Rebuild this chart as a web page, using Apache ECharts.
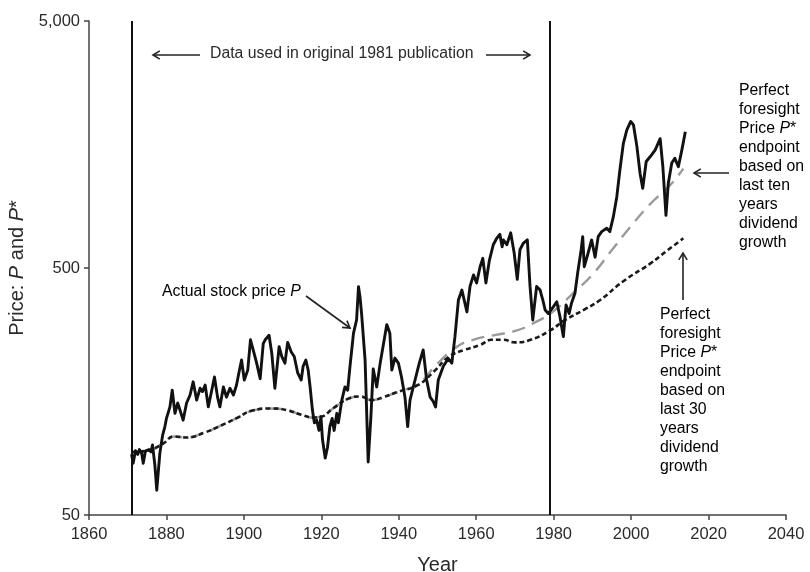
<!DOCTYPE html>
<html><head><meta charset="utf-8">
<script src="https://cdn.jsdelivr.net/npm/echarts@6/dist/echarts.min.js"></script>
<style>html,body{margin:0;padding:0;background:#fff}#c{width:810px;height:572px}</style>
</head><body><div id="c"></div>
<script>
const xTicks = [1860, 1880, 1900, 1920, 1940, 1960, 1980, 2000, 2020, 2040];
const yTicks = [50, 500, 5000];
const markYears = [1871, 1979];

const priceYears = [1871.0,1871.4,1872.0,1872.6,1873.0,1873.6,1874.0,1874.6,1875.5,1876.0,1876.4,1877.0,1877.5,1878.3,1879.0,1879.6,1880.0,1880.9,1881.5,1882.2,1882.9,1883.5,1884.3,1885.2,1886.1,1886.9,1887.8,1888.7,1889.3,1890.0,1890.8,1891.7,1892.4,1893.2,1893.8,1894.7,1895.5,1896.4,1897.3,1898.1,1898.7,1899.4,1900.1,1901.0,1901.7,1902.4,1903.3,1904.2,1905.0,1905.5,1906.5,1907.2,1908.0,1909.1,1909.8,1910.6,1911.3,1912.2,1913.0,1913.9,1914.8,1915.3,1916.0,1916.6,1917.1,1917.7,1918.2,1918.8,1919.4,1919.9,1920.3,1921.0,1921.6,1922.2,1922.8,1923.3,1924.0,1924.4,1925.3,1926.1,1926.8,1927.4,1928.3,1929.1,1929.6,1930.0,1930.4,1931.3,1932.1,1932.8,1933.4,1934.3,1935.2,1936.3,1936.9,1937.7,1938.2,1939.0,1939.9,1940.7,1941.6,1942.3,1942.9,1944.2,1945.3,1946.3,1947.2,1948.1,1948.9,1949.5,1950.2,1951.5,1952.8,1953.7,1954.5,1955.4,1956.3,1957.6,1958.4,1959.3,1960.1,1961.0,1961.7,1962.5,1963.4,1964.4,1965.3,1966.1,1966.7,1967.0,1967.9,1968.9,1969.8,1970.6,1971.3,1972.2,1973.2,1973.9,1974.6,1975.6,1976.5,1977.2,1977.8,1978.6,1979.9,1980.8,1981.6,1982.5,1983.2,1984.0,1984.6,1985.5,1986.2,1987.1,1987.5,1987.9,1988.9,1989.8,1990.7,1991.5,1992.4,1993.7,1994.5,1995.4,1996.3,1997.1,1998.0,1998.9,1999.9,2000.6,2001.5,2002.3,2003.0,2003.9,2004.9,2006.2,2007.5,2008.2,2009.0,2009.6,2010.5,2011.3,2012.2,2013.1,2014.0];
const priceValues = [88,81,91,88,92,89,81,91,92,90,96,80,63,89,105,114,123,137,160,129,142,133,121,142,153,173,146,163,158,168,137,160,181,150,137,165,150,163,153,168,188,212,176,193,256,233,206,178,247,256,267,226,163,240,219,206,250,229,219,188,176,200,212,193,165,133,118,121,110,125,101,85,94,114,123,110,129,118,146,165,160,200,272,308,420,380,326,212,82,125,195,165,206,260,295,272,193,216,206,181,150,114,146,176,206,233,176,150,144,137,176,200,215,206,263,371,407,332,421,469,435,506,547,435,537,621,660,684,609,650,621,694,575,450,593,631,650,421,308,421,407,371,338,327,348,365,319,264,354,327,360,395,478,593,670,506,575,650,553,670,702,724,702,805,970,1247,1597,1813,1960,1900,1550,1210,1052,1350,1410,1500,1670,1285,817,1100,1330,1390,1285,1500,1780];

const pstar30Years = [1871,1875,1879,1882,1885,1890,1894,1898,1902,1907,1911,1915,1918,1920,1923,1927,1930,1933,1936,1940,1945,1949,1953,1957,1961,1964,1967,1970,1974,1979,1983,1988,1992,1998,2005,2009,2013.5];
const pstar30Values = [90,91,97,104,103,108,115,123,132,135,133,127,124,125,135,148,151,146,150,158,168,190,219,233,244,256,256,250,256,279,308,340,371,442,522,583,660];

const pstar10Years = [1871,1875,1879,1882,1885,1890,1894,1898,1902,1907,1911,1915,1918,1920,1923,1927,1930,1933,1936,1940,1945,1950,1955,1960,1965,1970,1975,1980,1985,1990,1995,2000,2005,2010,2013.5];
const pstar10Values = [90,91,97,104,103,108,115,123,132,135,133,127,124,125,135,148,151,146,150,158,170,205,240,258,268,278,300,335,395,470,590,740,910,1080,1262];

function pairs(xs, ys) { return xs.map((x, i) => [x, ys[i]]); }

const chart = echarts.init(document.getElementById('c'), null, {renderer: 'canvas'});
const FONT = 'Liberation Sans, Arial, sans-serif';
const TXT = '#2a2a2a';

function arrow(x1, y1, x2, y2) {
  const a = Math.atan2(y2 - y1, x2 - x1), L = 8, w = 0.55;
  return [
    {type: 'line', silent: true, shape: {x1, y1, x2, y2}, style: {stroke: '#222', lineWidth: 1.6}},
    {type: 'polyline', silent: true, shape: {points: [
      [x2 - L * Math.cos(a - w), y2 - L * Math.sin(a - w)], [x2, y2],
      [x2 - L * Math.cos(a + w), y2 - L * Math.sin(a + w)]]},
     style: {stroke: '#222', lineWidth: 1.6, fill: null}}
  ];
}

const FS = 15.8;
const rich = {
  n: {fontFamily: FONT, fontSize: FS, color: TXT, lineHeight: 19},
  i: {fontFamily: FONT, fontSize: FS, color: TXT, lineHeight: 19, fontStyle: 'italic'}
};
function block(label) {
  return label.map(l => l.map(([s, k]) => '{' + k + '|' + s + '}').join('')).join('\n');
}
const label10 = [[['Perfect','n']],[['foresight','n']],[['Price ','n'],['P','i'],['*','n']],[['endpoint','n']],[['based on','n']],[['last ten','n']],[['years','n']],[['dividend','n']],[['growth','n']]];
const label30 = [[['Perfect','n']],[['foresight','n']],[['Price ','n'],['P','i'],['*','n']],[['endpoint','n']],[['based on','n']],[['last 30','n']],[['years','n']],[['dividend','n']],[['growth','n']]];

const graphics = [
  {type: 'text', silent: true, left: 210, top: 46, style: {text: 'Data used in original 1981 publication', font: FS + 'px ' + FONT, fill: TXT}},
  ...arrow(200, 55, 153, 55),
  ...arrow(486, 55, 530, 55),
  {type: 'text', silent: true, left: 162, top: 284, style: {text: '{n|Actual stock price }{i|P}', rich}},
  ...arrow(306, 296, 350, 328),
  {type: 'text', silent: true, left: 739, top: 83, style: {text: block(label10), rich}},
  ...arrow(729, 173, 694, 173),
  {type: 'text', silent: true, left: 660, top: 307, style: {text: block(label30), rich}},
  ...arrow(683, 300, 683, 253)
];

chart.setOption({
  animation: false,
  backgroundColor: '#fff',
  grid: {left: 89, right: 24, top: 21, bottom: 57, containLabel: false, outerBoundsMode: 'none'},
  xAxis: {
    type: 'value', min: 1860, max: 2040, interval: 20,
    name: 'Year', nameLocation: 'middle', nameGap: 40,
    nameTextStyle: {fontFamily: FONT, fontSize: 20, color: TXT},
    axisLine: {lineStyle: {color: '#444', width: 1.5}},
    axisTick: {lineStyle: {color: '#444', width: 1.5}, length: 5},
    axisLabel: {fontFamily: FONT, fontSize: 16.5, color: TXT, margin: 11, formatter: v => String(v)},
    splitLine: {show: false}
  },
  yAxis: {
    type: 'log', logBase: 10, min: 50, max: 5000,
    name: '{n|Price: }{i|P}{n| and }{i|P}{n|*}', nameLocation: 'middle', nameGap: 50,
    nameTextStyle: {rich: {
      n: {fontFamily: FONT, fontSize: 20, color: TXT},
      i: {fontFamily: FONT, fontSize: 20, color: TXT, fontStyle: 'italic'}
    }},
    axisLine: {show: true, lineStyle: {color: '#444', width: 1.5}},
    axisTick: {show: true, customValues: yTicks, lineStyle: {color: '#444', width: 1.5}, length: 5},
    axisLabel: {customValues: yTicks, fontFamily: FONT, fontSize: 16.5, color: TXT, margin: 9,
      formatter: v => Math.round(v).toString().replace(/\B(?=(\d{3})+(?!\d))/g, ',')},
    splitLine: {show: false}
  },
  series: [
    {type: 'line', name: 'P* 10y', data: pairs(pstar10Years, pstar10Values), showSymbol: false, smooth: true,
     lineStyle: {color: '#9a9a9a', width: 2.4, type: [13, 8]}, z: 2},
    {type: 'line', name: 'P* 30y', data: pairs(pstar30Years, pstar30Values), showSymbol: false, smooth: true,
     lineStyle: {color: '#1a1a1a', width: 2.6, type: [5, 3]}, z: 3},
    {type: 'line', name: 'P', data: pairs(priceYears, priceValues), showSymbol: false,
     lineStyle: {color: '#111', width: 2.9, join: 'round'}, z: 4,
     markLine: {silent: true, symbol: 'none', label: {show: false},
       lineStyle: {color: '#111', width: 2, type: 'solid'},
       data: markYears.map(y => ({xAxis: y}))}}
  ],
  graphic: graphics
});
</script></body></html>
